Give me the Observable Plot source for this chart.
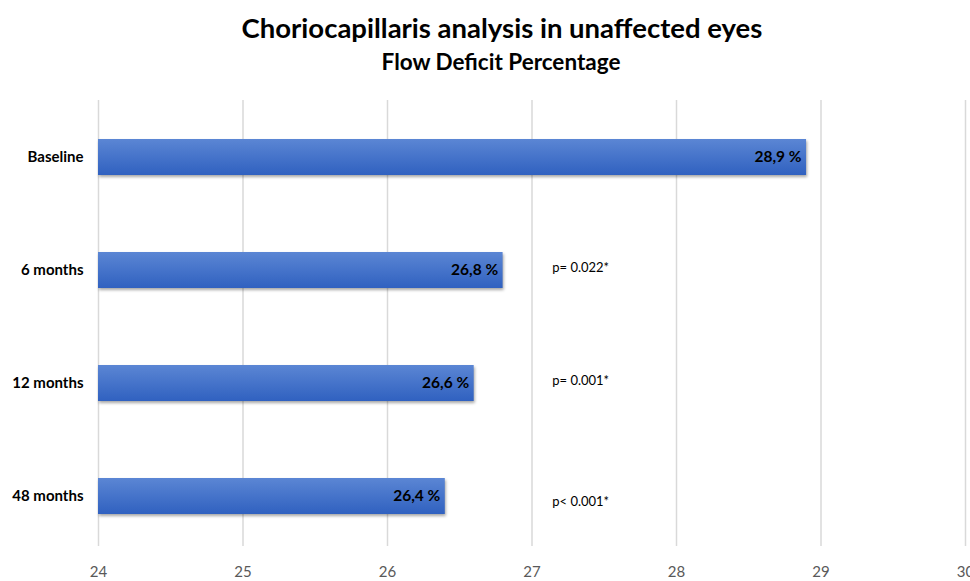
<!DOCTYPE html>
<html>
<head>
<meta charset="utf-8">
<script src="https://cdn.jsdelivr.net/npm/d3@7"></script>
<script src="https://cdn.jsdelivr.net/npm/@observablehq/plot@0.6"></script>
<style>
  html, body { margin: 0; padding: 0; background: #fff; width: 970px; height: 581px; overflow: hidden; }
  body { font-family: Lato, "Open Sans", sans-serif; }
  #title { height: 46px; text-align: center; font-weight: 700; font-size: 27.5px; color: #000; line-height: 56px; padding-left: 34px; }
  #subtitle { height: 34px; text-align: center; font-weight: 700; font-size: 22.5px; color: #000; line-height: 31px; padding-left: 32px; }
  #chart svg { display: block; overflow: visible; }
</style>
</head>
<body>
<div id="title">Choriocapillaris analysis in unaffected eyes</div>
<div id="subtitle">Flow Deficit Percentage</div>
<div id="chart"></div>
<script>
const timepoints = ["Baseline", "6 months", "12 months", "48 months"];
const flowDeficit = [28.9, 26.8, 26.6, 26.4];
const valueLabels = ["28,9 %", "26,8 %", "26,6 %", "26,4 %"];
const pValues = ["", "p= 0.022*", "p= 0.001*", "p< 0.001*"];
const xTicks = [24, 25, 26, 27, 28, 29, 30];

const data = timepoints.map((t, i) => ({
  time: t, value: flowDeficit[i], label: valueLabels[i], p: pValues[i]
}));
const pLabelX = 27.14;

const plot = Plot.plot({
  width: 970,
  height: 501,
  marginTop: 20,
  marginBottom: 35,
  marginLeft: 98,
  marginRight: 5,
  style: { fontFamily: "Lato, 'Open Sans', sans-serif", background: "transparent", overflow: "visible" },
  x: { domain: [24, 30], ticks: xTicks, label: null },
  y: { domain: timepoints, label: null, paddingInner: 0.682, paddingOuter: 0.309, align: 0.555 },
  marks: [
    Plot.gridX(xTicks, { stroke: "#d9d9d9", strokeOpacity: 1, strokeWidth: 1.5 }),
    Plot.barX(data, { x1: 24, x2: "value", y: "time", fill: "url(#barGrad)", className: "bars" }),
    Plot.text(data, { x: "value", y: "time", text: "label", textAnchor: "end", dx: -5, fontWeight: 700, fontSize: 15.5, fill: "#000" }),
    Plot.text(data.filter(d => d.p && d.time !== "48 months"), { x: () => pLabelX, y: "time", text: "p", textAnchor: "start", dy: -3, fontSize: 13, fill: "#000" }),
    Plot.text(data.filter(d => d.time === "48 months"), { x: () => pLabelX, y: "time", text: "p", textAnchor: "start", dy: 5, fontSize: 13, fill: "#000" }),
    Plot.axisX({ ticks: xTicks, tickSize: 0, tickPadding: 20, fontSize: 15, fill: "#595959", tickFormat: d => String(d), label: null }),
    Plot.axisY({ tickSize: 0, tickPadding: 15, fontSize: 15, fontWeight: 700, fill: "#000", label: null })
  ]
});

const defs = d3.select(plot).insert("defs", ":first-child");
const grad = defs.append("linearGradient").attr("id", "barGrad").attr("x1", 0).attr("y1", 0).attr("x2", 0).attr("y2", 1);
grad.append("stop").attr("offset", "0%").attr("stop-color", "#5b86d4");
grad.append("stop").attr("offset", "100%").attr("stop-color", "#3061c0");
d3.select(plot).selectAll("g.bars rect").style("filter", "drop-shadow(1px 2px 1.5px rgba(0,0,0,0.35))");

document.getElementById("chart").appendChild(plot);
</script>
</body>
</html>
